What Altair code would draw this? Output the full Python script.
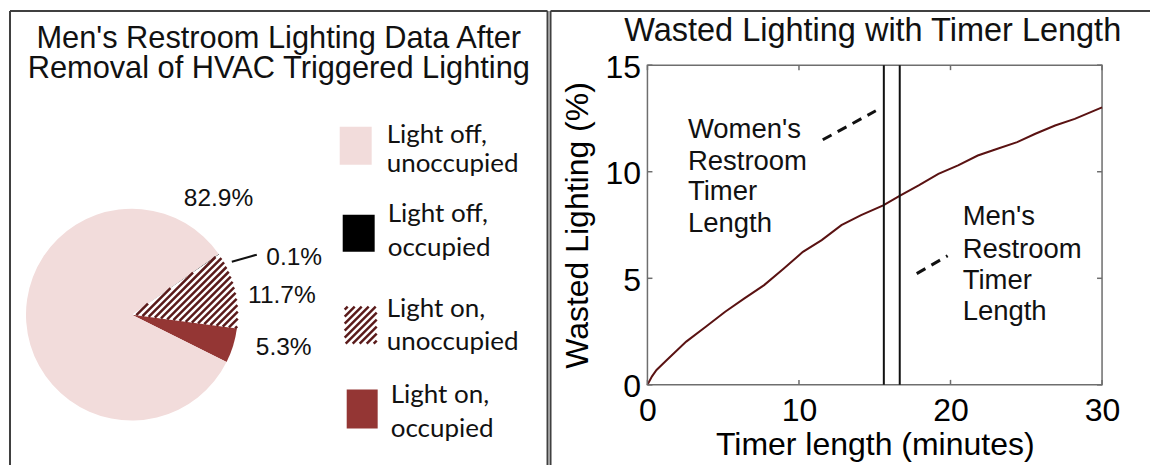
import math
import altair as alt
import pandas as pd

# ---------------- data ----------------
PIE_CATEGORIES = ["Light off, occupied", "Light on, unoccupied", "Light on, occupied", "Light off, unoccupied"]
PIE_VALUES = [0.1, 11.7, 5.3, 82.9]
PIE_LABELS = ["0.1%", "11.7%", "5.3%", "82.9%"]

LEGEND_ORDER = ["Light off, unoccupied", "Light off, occupied", "Light on, unoccupied", "Light on, occupied"]
LEGEND_LINE1 = ["Light off,", "Light off,", "Light on,", "Light on,"]
LEGEND_LINE2 = ["unoccupied", "occupied", "unoccupied", "occupied"]

LEFT_TITLE = ["Men's Restroom Lighting Data After", "Removal of HVAC Triggered Lighting"]
RIGHT_TITLE = "Wasted Lighting with Timer Length"

TIMER_MIN = [0, 0.3, 0.6, 1.28, 2.56, 3.85, 5.13, 6.4, 7.7, 9.0, 10.26, 11.5, 12.8, 14.1,
             15.56, 16.7, 17.9, 19.2, 20.5, 21.8, 23.1, 24.4, 25.6, 26.9, 28.2, 30]
WASTED_PCT = [0, 0.4, 0.7, 1.17, 2.03, 2.73, 3.43, 4.06, 4.68, 5.46, 6.24, 6.79, 7.49, 7.96,
              8.42, 8.89, 9.36, 9.9, 10.3, 10.76, 11.08, 11.39, 11.78, 12.17, 12.48, 13.02]

TIMER_LENGTHS = [15.6, 16.65]          # women's, men's restroom timer (minutes)
WOMEN_TEXT = ["Women's", "Restroom", "Timer", "Length"]
MEN_TEXT = ["Men's", "Restroom", "Timer", "Length"]

X_TICKS = [0, 10, 20, 30]
Y_TICKS = [0, 5, 10, 15]

# ---------------- layout / style ----------------
FONT = "Liberation Sans"
LEG_FONT = "Lato"
BORDER = "#404040"
FRAME = "#6e6e6e"
CURVE = "#5a1212"
PINK = "#f2dcdb"
DARK = "#943634"
HATCH = "#5a1a1a"
COLORS = {"Light off, occupied": "#000000", "Light on, unoccupied": "#ffffff",
          "Light on, occupied": DARK, "Light off, unoccupied": PINK}

W2, H2 = 455, 320            # right plot area
Y_SHIFT = -54.3              # panel top border relative to the plot-area top
W1 = 538                     # left panel width
PANEL_BOTTOM = 456           # panel coordinates (from the top border)
PIE_CX, PIE_CY, PIE_R = 122, 304, 106
PIE_OFFSET = 0.961
HATCH_STEP = 7.0

LEG_RECT_X0 = [330, 333, 335, 337]
LEG_RECT_X1 = [362, 365, 367, 368]
LEG_RECT_Y0 = [116, 204, 296, 379]
LEG_RECT_Y1 = [154, 241, 333, 418]
LEG_TEXT_X = [377, 378, 377, 381]
LEG_BASE1 = [132, 211, 306, 392]
LEG_BASE2 = [161, 245, 339, 426]

PIE_LABEL_X = [256.5, 238.3, 246, 174]
PIE_LABEL_Y = [254.8, 292.8, 344.8, 194.8]
LEADER = (222, 251, 247, 244)

TICK = 5
WOMEN_POS = (2.67, [11.56, 10.08, 8.67, 7.19])
MEN_POS = (20.8, [7.5, 5.97, 4.5, 3.05])
LEADERS = [(11.57, 11.5, 15.07, 12.86), (17.77, 5.22, 19.81, 6.06)]
DIV_X, TOP_RIGHT, BOTTOM_Y = -97, 503, 401.7

TAU = 2 * math.pi


def clip_diag(c, halfplanes, disk=None):
    s2 = math.sqrt(2)
    px, py = c / 2, c / 2
    dx, dy = 1 / s2, -1 / s2
    lo, hi = -1e6, 1e6
    for nx, ny, qx, qy in halfplanes:
        a = nx * (px - qx) + ny * (py - qy)
        b = nx * dx + ny * dy
        if abs(b) < 1e-12:
            if a < 0:
                return None
            continue
        t = -a / b
        if b > 0:
            lo = max(lo, t)
        else:
            hi = min(hi, t)
    if disk is not None:
        cx, cy, r = disk
        qx, qy = px - cx, py - cy
        B = qx * dx + qy * dy
        C = qx * qx + qy * qy - r * r
        disc = B * B - C
        if disc <= 0:
            return None
        sq = math.sqrt(disc)
        lo = max(lo, -B - sq)
        hi = min(hi, -B + sq)
    if hi - lo < 1:
        return None
    return (px + lo * dx, py + lo * dy, px + hi * dx, py + hi * dy)


# sector angles of the hatched slice (derived from the data)
total = sum(PIE_VALUES)
cum = 0.0
angles = []
for v in PIE_VALUES:
    a0 = PIE_OFFSET + TAU * cum / total
    cum += v
    angles.append((a0, PIE_OFFSET + TAU * cum / total))
ha0, ha1 = angles[PIE_CATEGORIES.index("Light on, unoccupied")]
sector_planes = [(math.cos(ha0), math.sin(ha0), PIE_CX, PIE_CY),
                 (-math.cos(ha1), -math.sin(ha1), PIE_CX, PIE_CY)]
hatch_rows = []
c = PIE_CX + PIE_CY - 2 * PIE_R
while c < PIE_CX + PIE_CY + 2 * PIE_R:
    seg = clip_diag(c, sector_planes, (PIE_CX, PIE_CY, PIE_R))
    if seg:
        hatch_rows.append(dict(zip(["x1", "y1", "x2", "y2"], seg)))
    c += HATCH_STEP

# legend hatch box
li = LEGEND_ORDER.index("Light on, unoccupied")
bx0, bx1, by0, by1 = LEG_RECT_X0[li], LEG_RECT_X1[li], LEG_RECT_Y0[li], LEG_RECT_Y1[li]
box_planes = [(1, 0, bx0, 0), (-1, 0, bx1, 0), (0, 1, 0, by0), (0, -1, 0, by1)]
c = bx0 + by0 + 3
while c < bx1 + by1:
    seg = clip_diag(c, box_planes)
    if seg:
        hatch_rows.append(dict(zip(["x1", "y1", "x2", "y2"], seg)))
    c += HATCH_STEP
hatch_df = pd.DataFrame(hatch_rows)

# panel coordinates -> pixels of the left view
LX = alt.Scale(domain=[0, 1000], range=[0, 1000], nice=False, zero=False)
LY = alt.Scale(domain=[0, 1000], range=[Y_SHIFT, 1000 + Y_SHIFT], nice=False, zero=False)
color_enc = alt.Color("category:N", scale=alt.Scale(domain=list(COLORS.keys()),
                                                    range=list(COLORS.values())), legend=None)

pie_df = pd.DataFrame({"category": PIE_CATEGORIES, "value": PIE_VALUES,
                       "ord": list(range(len(PIE_VALUES)))})
pie = alt.Chart(pie_df).mark_arc(radius=PIE_R).encode(
    theta=alt.Theta("value:Q", stack=True,
                    scale=alt.Scale(domain=[0, total], range=[PIE_OFFSET, PIE_OFFSET + TAU])),
    color=color_enc,
    order=alt.Order("ord:Q"),
    x=alt.value(PIE_CX), y=alt.value(PIE_CY + Y_SHIFT))


def seg_layer(df, **mark):
    return alt.Chart(df).mark_rule(**mark).encode(
        x=alt.X("x1:Q", scale=LX, axis=None), y=alt.Y("y1:Q", scale=LY, axis=None),
        x2="x2:Q", y2="y2:Q")


hatch = seg_layer(hatch_df, color=HATCH, strokeWidth=2.5)

leader_df = pd.DataFrame({"x1": [LEADER[0]], "y1": [LEADER[1]], "x2": [LEADER[2]], "y2": [LEADER[3]]})
leader = seg_layer(leader_df, color="#111", strokeWidth=2)

border_df = pd.DataFrame({"x1": [0, 0, W1], "y1": [0, 0, 0],
                          "x2": [W1, 0, W1], "y2": [0, PANEL_BOTTOM, PANEL_BOTTOM]})
borders = seg_layer(border_df, color=BORDER, strokeWidth=2)

pl_df = pd.DataFrame({"label": PIE_LABELS, "px": PIE_LABEL_X, "py": PIE_LABEL_Y})
pie_labels = alt.Chart(pl_df).mark_text(font=FONT, fontSize=24.5, align="left",
                                        baseline="alphabetic", color="#111").encode(
    x=alt.X("px:Q", scale=LX, axis=None), y=alt.Y("py:Q", scale=LY, axis=None), text="label:N")

leg_df = pd.DataFrame({"category": LEGEND_ORDER, "x0": LEG_RECT_X0, "x1": LEG_RECT_X1,
                       "y0": LEG_RECT_Y0, "y1": LEG_RECT_Y1})
leg_rects = alt.Chart(leg_df).mark_rect().encode(
    x=alt.X("x0:Q", scale=LX, axis=None), x2="x1:Q",
    y=alt.Y("y0:Q", scale=LY, axis=None), y2="y1:Q", color=color_enc)

leg_text_df = pd.DataFrame({"t": LEGEND_LINE1 + LEGEND_LINE2,
                            "px": LEG_TEXT_X + LEG_TEXT_X,
                            "py": LEG_BASE1 + LEG_BASE2})
leg_text = alt.Chart(leg_text_df).mark_text(font=LEG_FONT, fontSize=26, align="left",
                                            baseline="alphabetic", color="#111").encode(
    x=alt.X("px:Q", scale=LX, axis=None), y=alt.Y("py:Q", scale=LY, axis=None), text="t:N")

lt_df = pd.DataFrame({"t": LEFT_TITLE, "px": [W1 / 2, W1 / 2], "py": [37.5, 67.5]})
left_title = alt.Chart(lt_df).mark_text(font=FONT, fontSize=30.8, align="center",
                                        baseline="alphabetic", color="#111").encode(
    x=alt.X("px:Q", scale=LX, axis=None), y=alt.Y("py:Q", scale=LY, axis=None), text="t:N")

left = alt.layer(pie, leg_rects, hatch, leader, pie_labels, leg_text, left_title, borders).properties(
    width=W1, height=H2, view=alt.ViewBackground(strokeWidth=0, strokeOpacity=0))

# ---------------- right panel ----------------
XS = alt.Scale(domain=[0, 30], nice=False, zero=False)
YS = alt.Scale(domain=[0, 15], nice=False, zero=False)
x_axis = alt.Axis(values=X_TICKS, title="Timer length (minutes)", grid=False, domain=False,
                  ticks=False, tickSize=0, labelFont=FONT, labelFontSize=32, labelColor="black",
                  labelPadding=11, labelFlush=False, labelOverlap=False, format="d",
                  titleFont=FONT, titleFontSize=32, titleFontWeight="normal",
                  titleColor="black", titlePadding=3)
y_axis = alt.Axis(values=Y_TICKS, title="Wasted Lighting (%)", grid=False, domain=False,
                  ticks=False, tickSize=0, labelFont=FONT, labelFontSize=32, labelColor="black",
                  labelPadding=7, labelOffset=2, labelFlush=False, labelOverlap=False, format="d",
                  titleFont=FONT, titleFontSize=32, titleFontWeight="normal",
                  titleColor="black", titlePadding=10)
XE = alt.X("t:Q", scale=XS, axis=x_axis)
YE = alt.Y("w:Q", scale=YS, axis=y_axis)

curve_df = pd.DataFrame({"t": TIMER_MIN, "w": WASTED_PCT})
curve = alt.Chart(curve_df).mark_line(color=CURVE, strokeWidth=2).encode(x=XE, y=YE)

timer_df = pd.DataFrame({"t": TIMER_LENGTHS})
timers = alt.Chart(timer_df).mark_rule(color="#111", strokeWidth=2).encode(x=XE)

lead_df = pd.DataFrame(LEADERS, columns=["t", "w", "t2", "w2"])
leaders = alt.Chart(lead_df).mark_rule(color="#111", strokeWidth=3, strokeDash=[10, 7]).encode(
    x=XE, y=YE, x2="t2:Q", y2="w2:Q")

ann_df = pd.DataFrame({"text": WOMEN_TEXT + MEN_TEXT,
                       "t": [WOMEN_POS[0]] * 4 + [MEN_POS[0]] * 4,
                       "w": WOMEN_POS[1] + MEN_POS[1]})
ann = alt.Chart(ann_df).mark_text(font=FONT, fontSize=27.5, align="left",
                                  baseline="alphabetic", color="#111").encode(
    x=XE, y=YE, text="text:N")

yt_df = pd.DataFrame({"w": Y_TICKS})
xt_df = pd.DataFrame({"t": X_TICKS})
ytick_l = alt.Chart(yt_df).mark_rule(color=FRAME, strokeWidth=1.5).encode(
    y=YE, x=alt.value(0), x2=alt.value(TICK))
ytick_r = alt.Chart(yt_df).mark_rule(color=FRAME, strokeWidth=1.5).encode(
    y=YE, x=alt.value(W2 - TICK), x2=alt.value(W2))
xtick_b = alt.Chart(xt_df).mark_rule(color=FRAME, strokeWidth=1.5).encode(
    x=XE, y=alt.value(H2 - TICK), y2=alt.value(H2))
xtick_t = alt.Chart(xt_df).mark_rule(color=FRAME, strokeWidth=1.5).encode(
    x=XE, y=alt.value(0), y2=alt.value(TICK))

one = pd.DataFrame({"k": [0]})
title_r = alt.Chart(one).mark_text(text=RIGHT_TITLE, font=FONT, fontSize=32.5, align="center",
                                   baseline="alphabetic", color="#111").encode(
    x=alt.value(W2 / 2 - 2), y=alt.value(-24))
top_line = alt.Chart(one).mark_rule(color=BORDER, strokeWidth=2).encode(
    x=alt.value(DIV_X), x2=alt.value(TOP_RIGHT), y=alt.value(Y_SHIFT))
divider = alt.Chart(one).mark_rule(color=BORDER, strokeWidth=2).encode(
    x=alt.value(DIV_X), y=alt.value(Y_SHIFT), y2=alt.value(BOTTOM_Y))

right = alt.layer(curve, timers, leaders, ann, ytick_l, ytick_r, xtick_b, xtick_t,
                  title_r, top_line, divider).properties(
    width=W2, height=H2, view=alt.ViewBackground(stroke=FRAME, strokeWidth=1.5))

chart = alt.hconcat(left, right, spacing=0).properties(
    padding={"left": 1, "top": 0, "right": 0, "bottom": 0}, background="white")

chart.save("out.html", embed_options={"renderer": "svg", "actions": False})
